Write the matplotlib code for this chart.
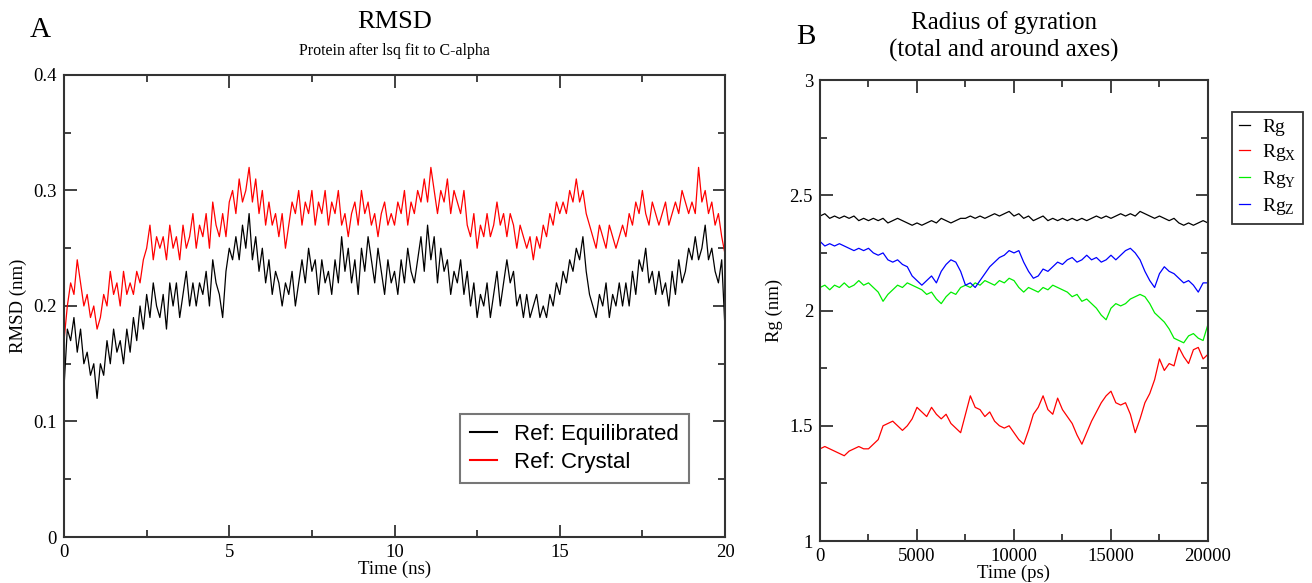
import numpy as np
import matplotlib
matplotlib.use('Agg')
import matplotlib.pyplot as plt
from matplotlib.ticker import MultipleLocator

plt.rcParams['font.family'] = ['Liberation Serif', 'DejaVu Serif']
plt.rcParams['mathtext.fontset'] = 'custom'
plt.rcParams['mathtext.rm'] = 'Liberation Serif'

# RMSD (nm), sampled every 0.1 ns from 0 to 20 ns
rmsd_time = np.arange(201) * 0.1
rmsd_equil = [
    0.13, 0.18, 0.17, 0.19, 0.16, 0.18, 0.15, 0.16, 0.14, 0.15,
    0.12, 0.15, 0.14, 0.17, 0.15, 0.18, 0.16, 0.17, 0.15, 0.18,
    0.16, 0.19, 0.17, 0.20, 0.18, 0.21, 0.19, 0.22, 0.20, 0.19,
    0.21, 0.18, 0.22, 0.20, 0.22, 0.19, 0.21, 0.23, 0.20, 0.22,
    0.20, 0.22, 0.21, 0.23, 0.20, 0.24, 0.22, 0.21, 0.19, 0.23,
    0.25, 0.24, 0.26, 0.24, 0.27, 0.25, 0.28, 0.24, 0.26, 0.23,
    0.25, 0.22, 0.24, 0.21, 0.23, 0.22, 0.20, 0.22, 0.21, 0.23,
    0.20, 0.22, 0.24, 0.22, 0.25, 0.23, 0.24, 0.21, 0.24, 0.22,
    0.23, 0.21, 0.24, 0.22, 0.26, 0.23, 0.25, 0.22, 0.24, 0.21,
    0.25, 0.23, 0.26, 0.24, 0.22, 0.25, 0.23, 0.21, 0.24, 0.22,
    0.23, 0.21, 0.24, 0.22, 0.25, 0.23, 0.22, 0.24, 0.26, 0.23,
    0.27, 0.24, 0.26, 0.22, 0.25, 0.23, 0.24, 0.21, 0.23, 0.22,
    0.24, 0.21, 0.23, 0.20, 0.22, 0.19, 0.21, 0.20, 0.22, 0.19,
    0.21, 0.23, 0.20, 0.22, 0.24, 0.22, 0.23, 0.20, 0.21, 0.19,
    0.21, 0.19, 0.20, 0.21, 0.19, 0.20, 0.19, 0.21, 0.20, 0.22,
    0.21, 0.23, 0.22, 0.24, 0.23, 0.25, 0.24, 0.26, 0.23, 0.21,
    0.20, 0.19, 0.21, 0.20, 0.22, 0.19, 0.21, 0.20, 0.22, 0.20,
    0.22, 0.20, 0.23, 0.21, 0.24, 0.23, 0.25, 0.22, 0.23, 0.21,
    0.23, 0.21, 0.22, 0.20, 0.23, 0.21, 0.24, 0.22, 0.23, 0.25,
    0.24, 0.26, 0.24, 0.25, 0.27, 0.24, 0.25, 0.23, 0.22, 0.24,
    0.18]
rmsd_crystal = [
    0.17, 0.20, 0.22, 0.21, 0.24, 0.22, 0.20, 0.21, 0.19, 0.20,
    0.18, 0.19, 0.21, 0.20, 0.23, 0.21, 0.22, 0.20, 0.23, 0.21,
    0.22, 0.21, 0.23, 0.22, 0.24, 0.25, 0.27, 0.24, 0.26, 0.25,
    0.26, 0.24, 0.27, 0.25, 0.26, 0.24, 0.27, 0.25, 0.26, 0.28,
    0.25, 0.27, 0.26, 0.28, 0.25, 0.29, 0.27, 0.26, 0.28, 0.26,
    0.29, 0.30, 0.28, 0.31, 0.29, 0.30, 0.32, 0.29, 0.31, 0.28,
    0.30, 0.27, 0.29, 0.27, 0.28, 0.26, 0.28, 0.25, 0.27, 0.29,
    0.28, 0.30, 0.27, 0.29, 0.28, 0.30, 0.27, 0.29, 0.28, 0.30,
    0.27, 0.29, 0.28, 0.30, 0.27, 0.28, 0.26, 0.28, 0.29, 0.27,
    0.30, 0.28, 0.29, 0.27, 0.28, 0.26, 0.28, 0.29, 0.27, 0.28,
    0.27, 0.29, 0.28, 0.30, 0.27, 0.29, 0.28, 0.30, 0.29, 0.31,
    0.29, 0.32, 0.30, 0.28, 0.30, 0.29, 0.31, 0.28, 0.30, 0.29,
    0.28, 0.30, 0.27, 0.26, 0.28, 0.25, 0.27, 0.26, 0.28, 0.26,
    0.27, 0.29, 0.27, 0.28, 0.26, 0.28, 0.27, 0.25, 0.27, 0.26,
    0.25, 0.26, 0.24, 0.26, 0.25, 0.27, 0.26, 0.28, 0.27, 0.29,
    0.28, 0.29, 0.28, 0.30, 0.29, 0.31, 0.29, 0.30, 0.28, 0.27,
    0.26, 0.25, 0.27, 0.26, 0.25, 0.27, 0.26, 0.25, 0.26, 0.27,
    0.26, 0.28, 0.27, 0.29, 0.28, 0.30, 0.28, 0.27, 0.29, 0.28,
    0.27, 0.28, 0.29, 0.27, 0.28, 0.29, 0.28, 0.30, 0.29, 0.28,
    0.29, 0.28, 0.32, 0.29, 0.30, 0.28, 0.29, 0.27, 0.28, 0.26,
    0.245]

# Radius of gyration (nm), sampled every 250 ps from 0 to 20000 ps
rg_time = np.arange(81) * 250
rg_total = [
    2.41, 2.42, 2.40, 2.41, 2.40, 2.41, 2.40, 2.41, 2.39, 2.40,
    2.39, 2.40, 2.39, 2.40, 2.38, 2.39, 2.40, 2.39, 2.38, 2.37,
    2.38, 2.37, 2.38, 2.39, 2.38, 2.40, 2.39, 2.38, 2.39, 2.40,
    2.40, 2.41, 2.40, 2.41, 2.40, 2.41, 2.42, 2.41, 2.42, 2.43,
    2.41, 2.42, 2.40, 2.41, 2.39, 2.40, 2.41, 2.39, 2.40, 2.39,
    2.40, 2.39, 2.40, 2.39, 2.40, 2.39, 2.40, 2.41, 2.40, 2.41,
    2.40, 2.41, 2.42, 2.41, 2.42, 2.41, 2.43, 2.42, 2.41, 2.40,
    2.41, 2.40, 2.39, 2.40, 2.38, 2.37, 2.38, 2.37, 2.38, 2.39,
    2.38]
rg_x = [
    1.40, 1.41, 1.40, 1.39, 1.38, 1.37, 1.39, 1.40, 1.41, 1.40,
    1.40, 1.42, 1.44, 1.50, 1.51, 1.52, 1.50, 1.48, 1.50, 1.53,
    1.58, 1.56, 1.54, 1.58, 1.55, 1.53, 1.55, 1.51, 1.49, 1.47,
    1.55, 1.63, 1.58, 1.57, 1.54, 1.56, 1.52, 1.50, 1.49, 1.50,
    1.47, 1.44, 1.42, 1.48, 1.55, 1.58, 1.63, 1.57, 1.55, 1.62,
    1.57, 1.54, 1.51, 1.46, 1.42, 1.47, 1.52, 1.56, 1.60, 1.63,
    1.65, 1.60, 1.59, 1.60, 1.55, 1.47, 1.53, 1.60, 1.64, 1.70,
    1.79, 1.74, 1.77, 1.76, 1.84, 1.80, 1.77, 1.83, 1.84, 1.79,
    1.81]
rg_y = [
    2.10, 2.11, 2.09, 2.11, 2.10, 2.12, 2.10, 2.11, 2.13, 2.11,
    2.12, 2.10, 2.08, 2.04, 2.07, 2.09, 2.11, 2.10, 2.12, 2.11,
    2.10, 2.09, 2.07, 2.08, 2.05, 2.03, 2.06, 2.08, 2.07, 2.10,
    2.11, 2.10, 2.12, 2.11, 2.13, 2.12, 2.11, 2.13, 2.12, 2.14,
    2.13, 2.10, 2.08, 2.10, 2.09, 2.08, 2.10, 2.09, 2.11, 2.10,
    2.09, 2.08, 2.06, 2.07, 2.04, 2.05, 2.03, 2.01, 1.98, 1.96,
    2.01, 2.03, 2.02, 2.03, 2.05, 2.06, 2.07, 2.06, 2.03, 1.99,
    1.97, 1.95, 1.92, 1.88, 1.87, 1.86, 1.89, 1.90, 1.88, 1.87,
    1.94]
rg_z = [
    2.30, 2.28, 2.29, 2.28, 2.29, 2.28, 2.27, 2.26, 2.27, 2.26,
    2.27, 2.25, 2.24, 2.25, 2.22, 2.21, 2.22, 2.20, 2.19, 2.15,
    2.13, 2.11, 2.13, 2.15, 2.12, 2.17, 2.20, 2.22, 2.21, 2.17,
    2.11, 2.12, 2.10, 2.13, 2.16, 2.19, 2.21, 2.23, 2.24, 2.26,
    2.25, 2.26, 2.21, 2.17, 2.14, 2.15, 2.18, 2.17, 2.19, 2.21,
    2.20, 2.22, 2.23, 2.21, 2.22, 2.24, 2.22, 2.23, 2.21, 2.22,
    2.24, 2.22, 2.24, 2.26, 2.27, 2.25, 2.22, 2.17, 2.13, 2.10,
    2.16, 2.19, 2.17, 2.16, 2.14, 2.12, 2.13, 2.11, 2.08, 2.12,
    2.12]


def grace_axes(ax):
    for s in ax.spines.values():
        s.set_linewidth(1.5)
        s.set_color('#333333')
    ax.tick_params(which='both', direction='in', top=True, right=True,
                   width=1.3, color='#333333', labelsize=13.5, pad=5)
    ax.tick_params(which='major', length=9)
    ax.tick_params(which='minor', length=5)


fig = plt.figure(figsize=(13.12, 5.83), dpi=100)

# panel A
ax1 = fig.add_axes([0.0488, 0.0789, 0.5038, 0.7925])
ax1.plot(rmsd_time, rmsd_equil, color='black', lw=0.9, label='Ref: Equilibrated')
ax1.plot(rmsd_time, rmsd_crystal, color='red', lw=0.9, label='Ref: Crystal')
ax1.set_xlim(0, 20)
ax1.set_ylim(0, 0.4)
ax1.xaxis.set_major_locator(MultipleLocator(5))
ax1.xaxis.set_minor_locator(MultipleLocator(2.5))
ax1.yaxis.set_minor_locator(MultipleLocator(0.05))
ax1.set_yticks([0, 0.1, 0.2, 0.3, 0.4])
ax1.set_yticklabels(['0', '0.1', '0.2', '0.3', '0.4'])
ax1.set_xlabel('Time (ns)', fontsize=13.5, labelpad=0)
ax1.set_ylabel('RMSD (nm)', fontsize=13.5, labelpad=5)
grace_axes(ax1)
leg1 = ax1.legend(loc='lower left', bbox_to_anchor=(0.599, 0.117), borderaxespad=0,
                  prop={'family': 'Liberation Sans', 'size': 16}, handlelength=1.2,
                  handletextpad=0.8, fancybox=False, framealpha=1, edgecolor='#777777',
                  labelspacing=0.3, borderpad=0.45)
leg1.get_frame().set_linewidth(1.5)
for h in leg1.get_lines():
    h.set_linewidth(1.5)

# panel B
ax2 = fig.add_axes([0.625, 0.072, 0.2957, 0.7907])
ax2.plot(rg_time, rg_total, color='black', lw=0.9, label='Rg')
ax2.plot(rg_time, rg_x, color='red', lw=0.9, label=r'Rg$_\mathregular{X}$')
ax2.plot(rg_time, rg_y, color='#00ee00', lw=0.9, label=r'Rg$_\mathregular{Y}$')
ax2.plot(rg_time, rg_z, color='blue', lw=0.9, label=r'Rg$_\mathregular{Z}$')
ax2.set_xlim(0, 20000)
ax2.set_ylim(1, 3)
ax2.xaxis.set_major_locator(MultipleLocator(5000))
ax2.xaxis.set_minor_locator(MultipleLocator(2500))
ax2.yaxis.set_minor_locator(MultipleLocator(0.25))
ax2.set_yticks([1, 1.5, 2, 2.5, 3])
ax2.set_yticklabels(['1', '1.5', '2', '2.5', '3'])
ax2.set_xlabel('Time (ps)', fontsize=13.5, labelpad=0)
ax2.set_ylabel('Rg (nm)', fontsize=13.5, labelpad=5)
grace_axes(ax2)
leg2 = ax2.legend(loc='upper left', bbox_to_anchor=(1.062, 0.931), borderaxespad=0,
                  fontsize=14, handlelength=0.6, handletextpad=0.6, fancybox=False,
                  framealpha=1, edgecolor='#333333', labelspacing=0.3, borderpad=0.35)
leg2.get_frame().set_linewidth(1.3)

# titles and panel letters
fig.text(0.023, 0.949, 'A', fontsize=21, ha='left', va='center')
fig.text(0.301, 0.963, 'RMSD', fontsize=19, ha='center', va='center')
fig.text(0.301, 0.912, 'Protein after lsq fit to C-alpha', fontsize=11.5, ha='center', va='center')
fig.text(0.607, 0.937, 'B', fontsize=21, ha='left', va='center')
fig.text(0.765, 0.962, 'Radius of gyration', fontsize=18, ha='center', va='center')
fig.text(0.765, 0.913, '(total and around axes)', fontsize=18, ha='center', va='center')

plt.savefig('out.png', dpi=100)
plt.close()
